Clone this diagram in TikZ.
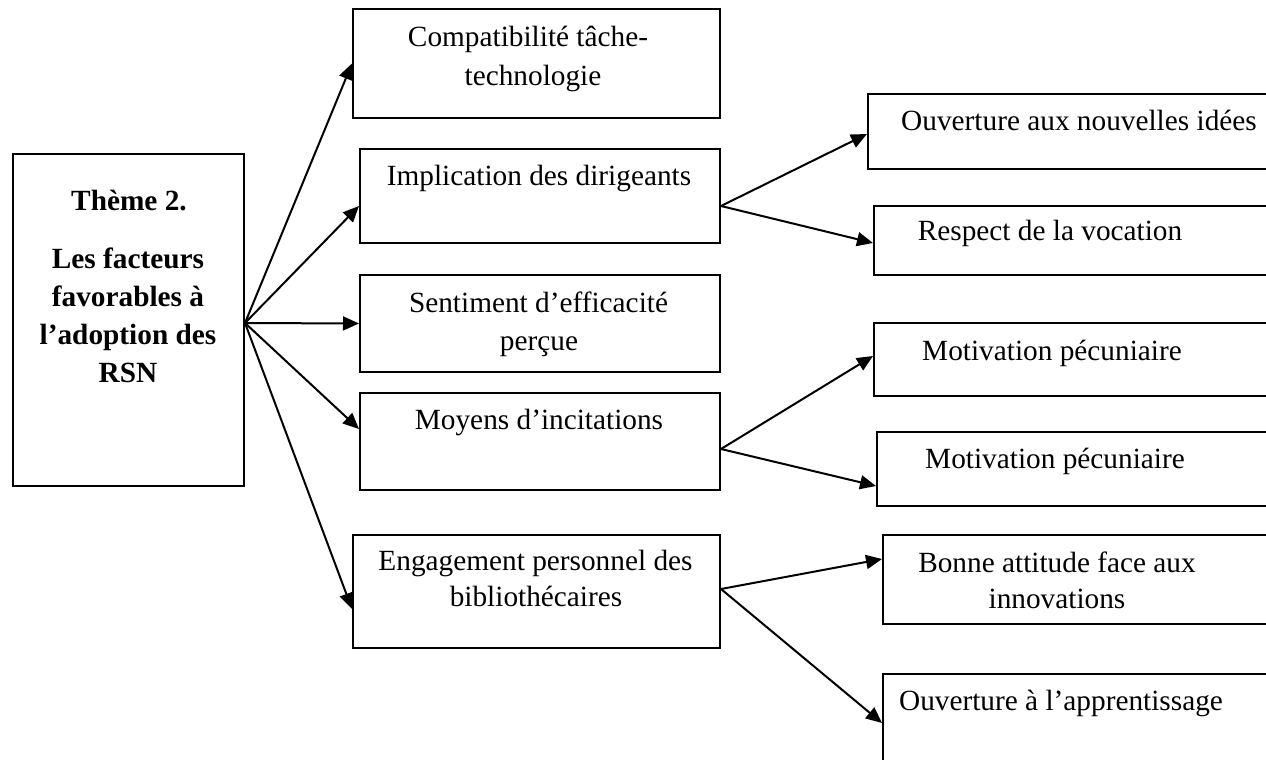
\documentclass[tikz,border=0pt]{standalone}
\usepackage{fontspec}
\setmainfont{Liberation Serif}
\usetikzlibrary{arrows.meta}
\begin{document}
\begin{tikzpicture}[x=1pt,y=-1pt,
  box/.style={draw, line width=2pt, rectangle, inner sep=0pt, anchor=north west},
  txt/.style={anchor=base, inner sep=0pt, font=\fontsize{29.3}{38}\selectfont},
  btxt/.style={anchor=base, inner sep=0pt, font=\fontsize{29.3}{38}\selectfont\bfseries},
  arr/.style={line width=2pt, -{Triangle[length=16pt,width=14pt]}}]
\useasboundingbox (0,0) rectangle (1266,760);
\clip (0,0) rectangle (1266,760);
% boxes
\node[box, minimum width=231pt, minimum height=332pt] (main) at (12,153) {};
\node[box, minimum width=367pt, minimum height=109pt] (compat) at (352,8) {};
\node[box, minimum width=360pt, minimum height=94pt] (impl) at (359,148) {};
\node[box, minimum width=360pt, minimum height=97pt] (sent) at (359,274) {};
\node[box, minimum width=360pt, minimum height=97pt] (moy) at (359,392) {};
\node[box, minimum width=367pt, minimum height=113pt] (eng) at (352,534) {};
\node[box, minimum width=420pt, minimum height=75pt] (ouv) at (867,93) {};
\node[box, minimum width=420pt, minimum height=69pt] (resp) at (873,205) {};
\node[box, minimum width=420pt, minimum height=73pt] (mota) at (873,322) {};
\node[box, minimum width=420pt, minimum height=74pt] (motb) at (876,431) {};
\node[box, minimum width=420pt, minimum height=89pt] (bonne) at (882,534) {};
\node[box, minimum width=420pt, minimum height=117pt] (appr) at (882,673) {};
% texts
\node[btxt] (t1) at (129,210) {Thème 2.};
\node[btxt] (t2) at (128,268) {Les facteurs};
\node[btxt] (t3) at (128,306) {favorables à};
\node[btxt] (t4) at (128,344) {l’adoption des};
\node[btxt] (t5) at (128,382) {RSN};
\node[txt] (c1) at (528,47) {Compatibilité tâche-};
\node[txt] (c2) at (533,85) {technologie};
\node[txt] (i1) at (539,185) {Implication des dirigeants};
\node[txt] (s1) at (538.5,312) {Sentiment d’efficacité};
\node[txt] (s2) at (539,350) {perçue};
\node[txt] (m1) at (539,429) {Moyens d’incitations};
\node[txt] (e1) at (535.5,570) {Engagement personnel des};
\node[txt] (e2) at (536,606) {bibliothécaires};
\node[txt] (o1) at (1079,130) {Ouverture aux nouvelles idées};
\node[txt] (r1) at (1050,240) {Respect de la vocation};
\node[txt] (ma) at (1052,360) {Motivation pécuniaire};
\node[txt] (mb) at (1055,468) {Motivation pécuniaire};
\node[txt] (b1) at (1057,572) {Bonne attitude face aux};
\node[txt] (b2) at (1057,608) {innovations};
\node[txt] (a1) at (1061,710) {Ouverture à l’apprentissage};
% connectors
\coordinate (hub) at ([yshift=-3pt]main.east);
\draw[arr] (hub) -- (compat.west);
\draw[arr] (hub) -- ([yshift=-10pt]impl.west);
\draw[arr] (hub) -- (sent.west);
\draw[arr] (hub) -- ([yshift=12.5pt]moy.west);
\draw[arr] (hub) -- ([yshift=-17.5pt]eng.west);
\draw[arr] ([yshift=-10pt]impl.east) -- ([yshift=-2.5pt]ouv.west);
\draw[arr] ([yshift=-10pt]impl.east) -- ([yshift=-2.5pt]resp.west);
\draw[arr] ([yshift=-7.5pt]moy.east) -- ([yshift=3.5pt]mota.west);
\draw[arr] ([yshift=-7.5pt]moy.east) -- ([yshift=-17pt]motb.west);
\draw[arr] ([yshift=2.5pt]eng.east) -- ([yshift=20.5pt]bonne.west);
\draw[arr] ([yshift=2.5pt]eng.east) -- ([yshift=9.5pt]appr.west);
\end{tikzpicture}
\end{document}
